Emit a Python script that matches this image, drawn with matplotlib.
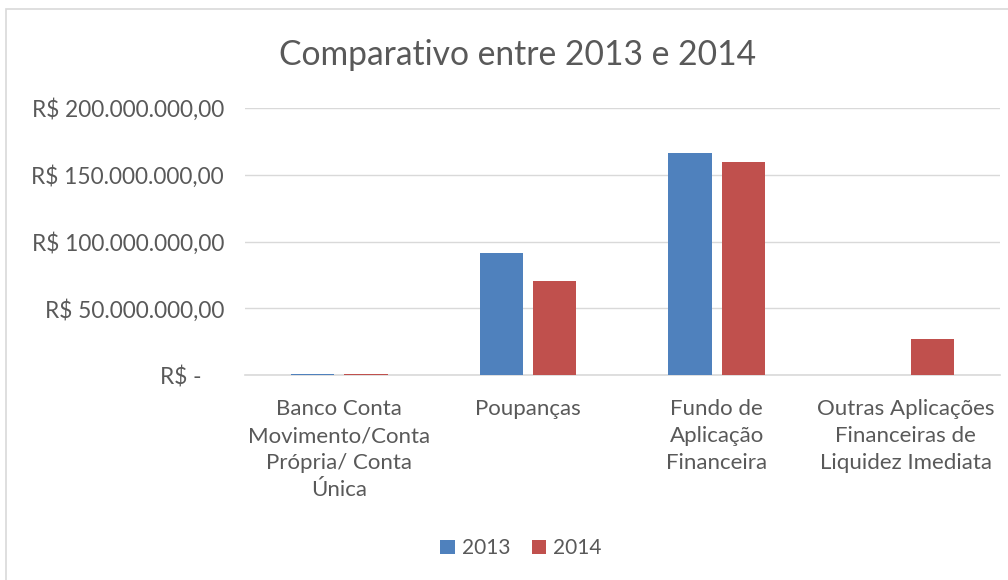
import numpy as np
import matplotlib.pyplot as plt
from matplotlib.patches import Rectangle

# Dados
categorias = ["Banco Conta\nMovimento/Conta\nPrópria/ Conta\nÚnica",
              "Poupanças",
              "Fundo de\nAplicação\nFinanceira",
              "Outras Aplicações\nFinanceiras de\nLiquidez Imediata"]
valores_2013 = [1.0e6, 91.4e6, 166.3e6, 0.0]
valores_2014 = [1.2e6, 70.4e6, 159.6e6, 27.0e6]
ticks_y = [0, 50e6, 100e6, 150e6, 200e6]
rotulos_y = ["R$ -    ", "R$ 50.000.000,00", "R$ 100.000.000,00",
             "R$ 150.000.000,00", "R$ 200.000.000,00"]

cor_texto = "#595959"
plt.rcParams["font.family"] = ["Lato", "DejaVu Sans"]

fig = plt.figure(figsize=(10.08, 5.8), dpi=100)
ax = fig.add_axes([0.243, 0.353, 0.749, 0.461])

# Moldura do gráfico
fig.patches.append(Rectangle((6 / 1008, -0.05), 1.1, 1 - 9 / 580 + 0.05,
                             transform=fig.transFigure, fill=False,
                             edgecolor="#D9D9D9", linewidth=1.2))

x = np.arange(len(categorias))
w = 0.23
gap = 0.053
ax.bar(x - (w + gap) / 2, valores_2013, w, color="#4F81BD", label="2013", zorder=3)
ax.bar(x + (w + gap) / 2, valores_2014, w, color="#C0504D", label="2014", zorder=3)

ax.set_xlim(-0.5, len(categorias) - 0.5)
ax.set_ylim(0, 200e6)
ax.set_yticks(ticks_y)
ax.set_yticklabels(rotulos_y, fontsize=16.3, color=cor_texto)
ax.set_xticks(x)
ax.set_xticklabels(categorias, fontsize=16, color=cor_texto, linespacing=1.45,
                   va="top")
ax.tick_params(length=0, pad=15, axis="y")
ax.tick_params(length=0, pad=17, axis="x")
ax.grid(axis="y", color="#D9D9D9", linewidth=1.0, zorder=0)
for s in ["top", "right", "left"]:
    ax.spines[s].set_visible(False)
ax.spines["bottom"].set_color("#D9D9D9")
ax.spines["bottom"].set_linewidth(1.2)

fig.text(0.513, 0.905, "Comparativo entre 2013 e 2014", ha="center", va="center",
         fontsize=24.2, color=cor_texto)

fig.legend(loc="center", bbox_to_anchor=(0.517, 0.055), ncol=2, frameon=False,
           fontsize=15, labelcolor=cor_texto, handlelength=0.7, handleheight=0.7,
           handletextpad=0.35, columnspacing=1.0)

fig.savefig("out.png", dpi=100)
